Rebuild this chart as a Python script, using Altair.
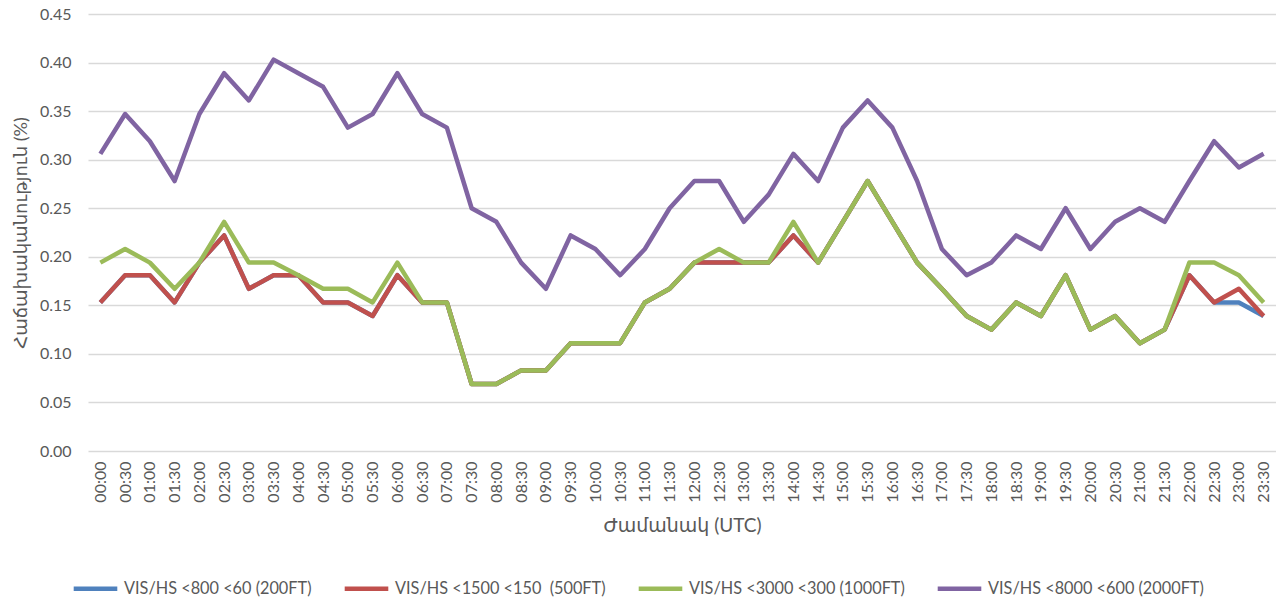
import altair as alt
import pandas as pd

times = ["00:00", "00:30", "01:00", "01:30", "02:00", "02:30", "03:00", "03:30",
         "04:00", "04:30", "05:00", "05:30", "06:00", "06:30", "07:00", "07:30",
         "08:00", "08:30", "09:00", "09:30", "10:00", "10:30", "11:00", "11:30",
         "12:00", "12:30", "13:00", "13:30", "14:00", "14:30", "15:00", "15:30",
         "16:00", "16:30", "17:00", "17:30", "18:00", "18:30", "19:00", "19:30",
         "20:00", "20:30", "21:00", "21:30", "22:00", "22:30", "23:00", "23:30"]

series_names = [
    "VIS/HS <800 <60 (200FT)",
    "VIS/HS <1500 <150 \u00a0(500FT)",
    "VIS/HS <3000 <300 (1000FT)",
    "VIS/HS <8000 <600 (2000FT)",
]
series_colors = ["#4F81BD", "#C0504D", "#9BBB59", "#8064A2"]

vis_200 = [0.153, 0.181, 0.181, 0.153, 0.194, 0.222, 0.167, 0.181,
           0.181, 0.153, 0.153, 0.139, 0.181, 0.153, 0.153, 0.069,
           0.069, 0.083, 0.083, 0.111, 0.111, 0.111, 0.153, 0.167,
           0.194, 0.194, 0.194, 0.194, 0.222, 0.194, 0.236, 0.278,
           0.236, 0.194, 0.167, 0.139, 0.125, 0.153, 0.139, 0.181,
           0.125, 0.139, 0.111, 0.125, 0.181, 0.153, 0.153, 0.139]

vis_500 = [0.153, 0.181, 0.181, 0.153, 0.194, 0.222, 0.167, 0.181,
           0.181, 0.153, 0.153, 0.139, 0.181, 0.153, 0.153, 0.069,
           0.069, 0.083, 0.083, 0.111, 0.111, 0.111, 0.153, 0.167,
           0.194, 0.194, 0.194, 0.194, 0.222, 0.194, 0.236, 0.278,
           0.236, 0.194, 0.167, 0.139, 0.125, 0.153, 0.139, 0.181,
           0.125, 0.139, 0.111, 0.125, 0.181, 0.153, 0.167, 0.139]

vis_1000 = [0.194, 0.208, 0.194, 0.167, 0.194, 0.236, 0.194, 0.194,
            0.181, 0.167, 0.167, 0.153, 0.194, 0.153, 0.153, 0.069,
            0.069, 0.083, 0.083, 0.111, 0.111, 0.111, 0.153, 0.167,
            0.194, 0.208, 0.194, 0.194, 0.236, 0.194, 0.236, 0.278,
            0.236, 0.194, 0.167, 0.139, 0.125, 0.153, 0.139, 0.181,
            0.125, 0.139, 0.111, 0.125, 0.194, 0.194, 0.181, 0.153]

vis_2000 = [0.306, 0.347, 0.319, 0.278, 0.347, 0.389, 0.361, 0.403,
            0.389, 0.375, 0.333, 0.347, 0.389, 0.347, 0.333, 0.250,
            0.236, 0.194, 0.167, 0.222, 0.208, 0.181, 0.208, 0.250,
            0.278, 0.278, 0.236, 0.264, 0.306, 0.278, 0.333, 0.361,
            0.333, 0.278, 0.208, 0.181, 0.194, 0.222, 0.208, 0.250,
            0.208, 0.236, 0.250, 0.236, 0.278, 0.319, 0.292, 0.306]

y_ticks = [0.0, 0.05, 0.10, 0.15, 0.20, 0.25, 0.30, 0.35, 0.40, 0.45]

all_values = [vis_200, vis_500, vis_1000, vis_2000]
rows = []
for name, vals in zip(series_names, all_values):
    for t, v in zip(times, vals):
        rows.append({"time": t, "value": v, "series": name})
df = pd.DataFrame(rows)

FONT = "Lato, DejaVu Sans, sans-serif"
GRAY = "#595959"

x_enc = alt.X("time:O", sort=times,
              title="Ժամանակ (UTC)",
              scale=alt.Scale(domain=times, paddingOuter=0.5),
              axis=alt.Axis(labelAngle=270, ticks=False, domain=False,
                            labelPadding=10, titlePadding=14,
                            labelFontSize=16, titleFontSize=19,
                            labelColor=GRAY, titleColor=GRAY,
                            titleFontWeight="normal",
                            labelFont=FONT, titleFont=FONT))
y_enc = alt.Y("value:Q",
              title="Հաճախականություն (%)",
              scale=alt.Scale(domain=[0, 0.45], nice=False),
              axis=alt.Axis(values=y_ticks, format=".2f", ticks=False,
                            domain=False, gridColor="#D9D9D9", gridWidth=1.5,
                            labelPadding=17, titlePadding=9,
                            labelFontSize=16, titleFontSize=18,
                            labelColor=GRAY, titleColor=GRAY,
                            titleFontWeight="normal",
                            labelFont=FONT, titleFont=FONT))
color_enc = alt.Color("series:N",
                      scale=alt.Scale(domain=series_names, range=series_colors),
                      legend=alt.Legend(title=None, orient="none",
                                        direction="horizontal",
                                        legendX=-17, legendY=550,
                                        symbolType="stroke",
                                        symbolSize=1900, symbolStrokeWidth=4.5,
                                        labelFontSize=16.3, labelColor=GRAY,
                                        labelFont=FONT, labelOffset=4,
                                        labelLimit=400,
                                        columnPadding=23, columns=4))

layers = []
for name in series_names:
    layers.append(
        alt.Chart(df).transform_filter(alt.datum.series == name)
        .mark_line(strokeWidth=4.5, strokeJoin="round")
        .encode(x=x_enc, y=y_enc, color=color_enc)
    )

chart = alt.layer(*layers).properties(
    width=1188, height=437,
    autosize=alt.AutoSizeParams(type="none"),
    padding={"left": 80, "top": 6, "right": 0, "bottom": 148},
).configure_view(stroke=None)

chart.save("out.html", embed_options={"renderer": "svg", "actions": False})
